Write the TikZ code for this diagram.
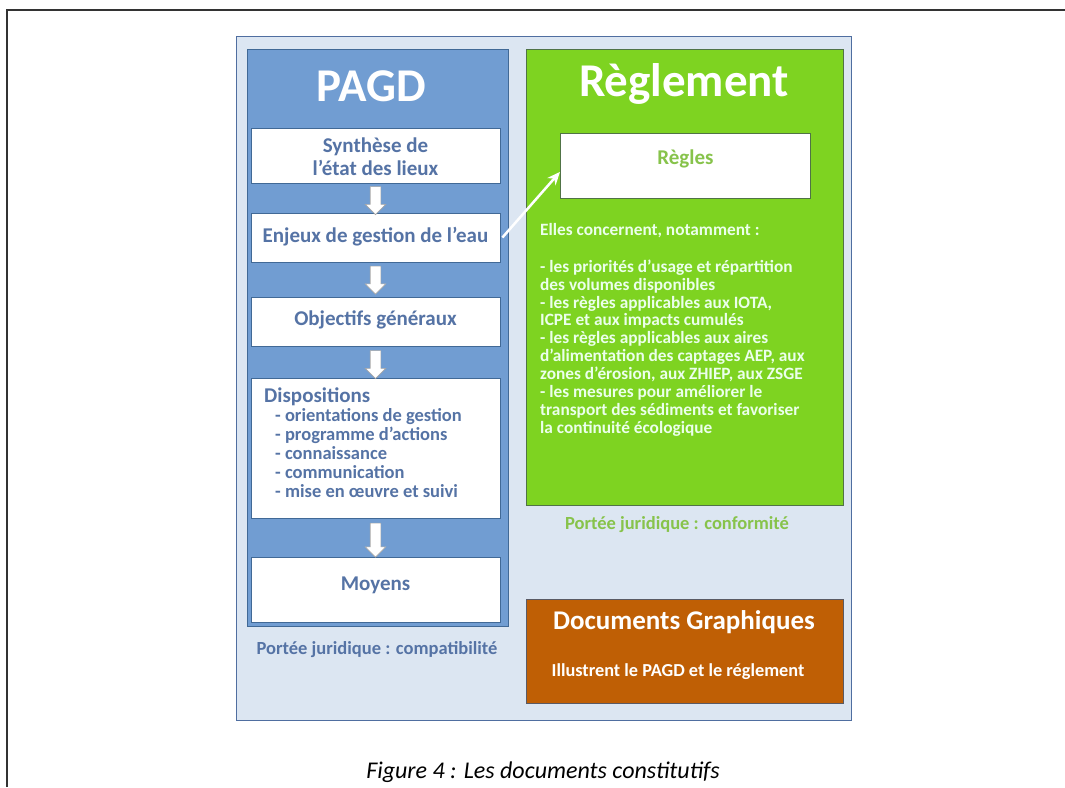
\documentclass[tikz,border=0pt]{standalone}
\usepackage{fontspec}
\setmainfont{Carlito}
\usetikzlibrary{shapes.arrows,calc,arrows.meta}
\definecolor{panelbg}{RGB}{220,230,242}
\definecolor{panelbd}{RGB}{79,110,160}
\definecolor{pagdblue}{RGB}{113,157,210}
\definecolor{pagdbd}{RGB}{65,105,150}
\definecolor{bluetext}{RGB}{85,115,165}
\definecolor{reggreen}{RGB}{126,211,33}
\definecolor{regbd}{RGB}{80,115,70}
\definecolor{lightgreen}{RGB}{135,195,75}
\definecolor{docbrown}{RGB}{191,95,5}
\definecolor{docbd}{RGB}{90,90,100}
\tikzset{
  box/.style={draw, line width=0.8pt, inner sep=0pt, anchor=north west},
  wbox/.style={draw=pagdbd, fill=white, line width=0.8pt, inner sep=0pt, minimum width=249pt},
  btext/.style={text=bluetext, font=\bfseries\fontsize{21}{23}\selectfont, align=center},
  downarrow/.style={single arrow, draw=black!35, fill=white, line width=0.6pt, inner sep=5pt,
     single arrow head extend=5pt, minimum height=28pt, shape border rotate=270},
  title/.style={text=white, font=\bfseries\fontsize{47}{50}\selectfont, anchor=base},
}
\begin{document}
\begin{tikzpicture}[x=1pt,y=-1pt]
\path[use as bounding box] (0,0) rectangle (1065,787);
\draw[line width=1.3pt, black!80] (7,787) -- (7,10) -- (1065,10);
% panel
\node[box, draw=panelbd, fill=panelbg, minimum width=615pt, minimum height=684pt] (panel) at (236,36) {};
% PAGD
\node[box, draw=pagdbd, fill=pagdblue, minimum width=261pt, minimum height=577pt] (pagd) at (247,49) {};
\node[title] (pagdt) at (371,101) {PAGD};
\node[wbox, minimum height=55pt] (synth) at (375.5,155.5) {};
\node[btext] (syntht) at ([yshift=-1pt]synth.center) {Synthèse de\\l’état des lieux};
\node[wbox, minimum height=49pt] (enjeux) at (375.5,237.5) {};
\node[btext] (enjeuxt) at ([yshift=1pt]enjeux.center) {Enjeux de gestion de l’eau};
\node[wbox, minimum height=49pt] (obj) at (375.5,321.5) {};
\node[btext] (objt) at ([yshift=2pt]obj.center) {Objectifs généraux};
\node[wbox, minimum height=140pt] (disp) at (375.5,448) {};
\node[text=bluetext, anchor=north west, align=left, inner sep=0pt,
  font=\bfseries\fontsize{18.5}{19}\selectfont] (dispt) at (264,388)
  {{\fontsize{21}{21}\selectfont Dispositions}\\
   \hspace*{11pt}- orientations de gestion\\
   \hspace*{11pt}- programme d’actions\\
   \hspace*{11pt}- connaissance\\
   \hspace*{11pt}- communication\\
   \hspace*{11pt}- mise en œuvre et suivi};
\node[wbox, minimum height=65pt] (moy) at (375.5,589.5) {};
\node[btext] (moyt) at ([yshift=4pt]moy.center) {Moyens};
\node[downarrow] (a1) at ($(synth.south)!0.5!(enjeux.north)$) {};
\node[downarrow] (a2) at ([yshift=2pt]$(enjeux.south)!0.5!(obj.north)$) {};
\node[downarrow] (a3) at ($(obj.south)!0.5!(disp.north)$) {};
\node[downarrow, minimum height=34pt] (a4) at ($(disp.south)!0.5!(moy.north)$) {};
\node[text=bluetext, font=\bfseries\fontsize{18.5}{20}\selectfont] (pc) at (377,650) {Portée juridique : compatibilité};
% Reglement
\node[box, draw=regbd, fill=reggreen, minimum width=317pt, minimum height=456pt] (reg) at (526,49) {};
\node[title] (regt) at (684,96) {Règlement};
\node[box, draw=regbd, fill=white, minimum width=250pt, minimum height=65pt] (regles) at (560,133) {};
\node[text=lightgreen, font=\bfseries\fontsize{21}{23}\selectfont] (reglest) at ([yshift=7pt]regles.center) {Règles};
\node[text=white!92!green, anchor=north west, align=left, inner sep=0pt,
  font=\bfseries\fontsize{17.3}{17.9}\selectfont] (regtxt) at (540,223)
  {Elles concernent, notamment :\\[19pt]
   - les priorités d’usage et répartition\\
   des volumes disponibles\\
   - les règles applicables aux IOTA,\\
   ICPE et aux impacts cumulés\\
   - les règles applicables aux aires\\
   d’alimentation des captages AEP, aux\\
   zones d’érosion, aux ZHIEP, aux ZSGE\\
   - les mesures pour améliorer le\\
   transport des sédiments et favoriser\\
   la continuité écologique};
\draw[white, line width=2.5pt, -{Stealth[length=13pt,width=11pt]}] ([xshift=2pt]enjeux.east) -- ([yshift=-6pt]regles.west);
\node[text=lightgreen, font=\bfseries\fontsize{18.5}{20}\selectfont] (pcf) at (677,525) {Portée juridique : conformité};
% Documents graphiques
\node[box, draw=docbd, fill=docbrown, minimum width=317pt, minimum height=104pt] (doc) at (526,599) {};
\node[text=white, font=\bfseries\fontsize{27}{30}\selectfont] (doct) at (684,622) {Documents Graphiques};
\node[text=white, font=\bfseries\fontsize{18.3}{20}\selectfont] (docs) at (678,672) {Illustrent le PAGD et le réglement};
% caption
\node[font=\itshape\fontsize{24}{26}\selectfont] (cap) at (543,772) {Figure 4 : Les documents constitutifs};
\end{tikzpicture}
\end{document}
